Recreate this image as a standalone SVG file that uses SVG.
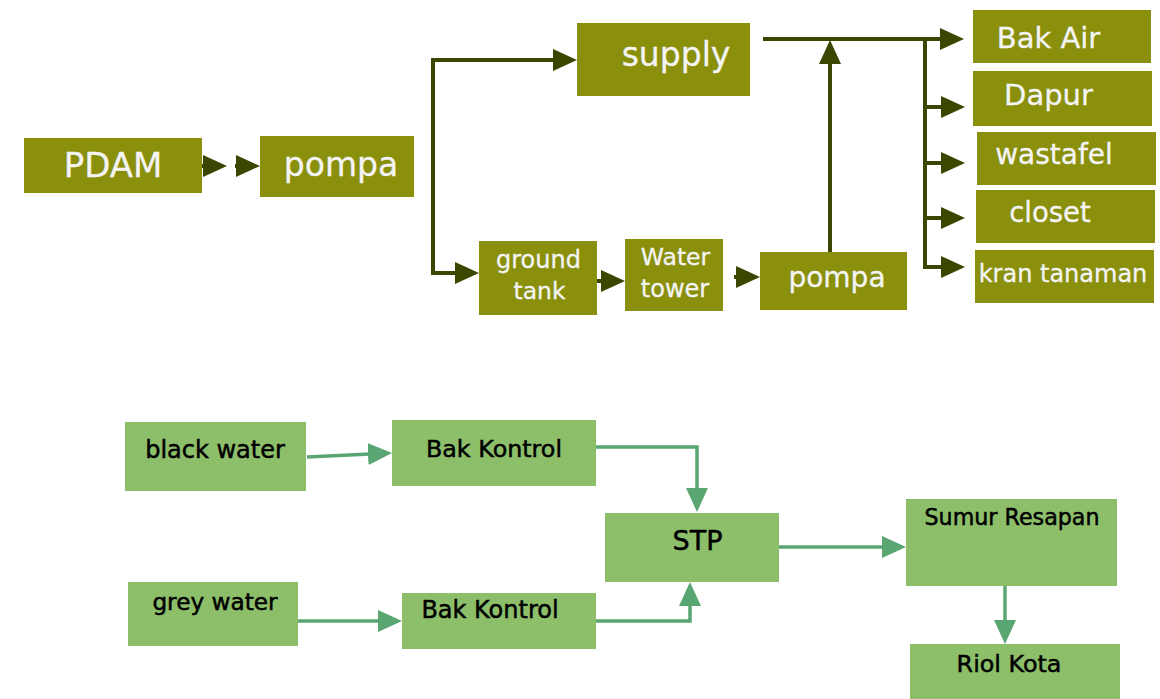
<svg xmlns="http://www.w3.org/2000/svg" width="1160" height="699" viewBox="0 0 1160 699">
  <style>
    .olive { fill: #8a8f0c; }
    .leaf { fill: #8dbf6b; }
    .lt { font-family: "DejaVu Sans", "Liberation Sans", sans-serif; fill: #f4f4f4; stroke: #f4f4f4; stroke-width: 0.3; text-anchor: middle; }
    .dk { font-family: "DejaVu Sans", "Liberation Sans", sans-serif; fill: #000000; stroke: #000000; stroke-width: 0.5; text-anchor: middle; }
    .supplyLine { fill: none; stroke: #3c4600; stroke-width: 4; }
    .wasteLine { fill: none; stroke: #5aa672; stroke-width: 3.5; }
  </style>
  <defs>
    <marker id="headDark" viewBox="0 0 24 22" refX="18" refY="11" markerWidth="24" markerHeight="22" markerUnits="userSpaceOnUse" orient="auto">
      <path d="M0,0 L24,11 L0,22 Z" fill="#3c4600"/>
    </marker>
    <marker id="headGreen" viewBox="0 0 24 22" refX="18" refY="11" markerWidth="24" markerHeight="22" markerUnits="userSpaceOnUse" orient="auto">
      <path d="M0,0 L24,11 L0,22 Z" fill="#5aa672"/>
    </marker>
  </defs>

  <rect width="1160" height="699" fill="#ffffff"/>

  <!-- clean water supply connectors -->
  <g id="connectors-supply">
    <path class="supplyLine" d="M202,166 H221" marker-end="url(#headDark)"/>
    <path class="supplyLine" d="M235,166 H254" marker-end="url(#headDark)"/>
    <path class="supplyLine" d="M433,166 V60 H571" marker-end="url(#headDark)"/>
    <path class="supplyLine" d="M433,166 V273 H473" marker-end="url(#headDark)"/>
    <path class="supplyLine" d="M597,281 H619" marker-end="url(#headDark)"/>
    <path class="supplyLine" d="M734,277 H754" marker-end="url(#headDark)"/>
    <path class="supplyLine" d="M830,252 V46" marker-end="url(#headDark)"/>
    <path class="supplyLine" d="M763,39 H958" marker-end="url(#headDark)"/>
    <path class="supplyLine" d="M925,39 V267"/>
    <path class="supplyLine" d="M925,107 H959" marker-end="url(#headDark)"/>
    <path class="supplyLine" d="M925,163 H959" marker-end="url(#headDark)"/>
    <path class="supplyLine" d="M925,218 H959" marker-end="url(#headDark)"/>
    <path class="supplyLine" d="M923,267 H959" marker-end="url(#headDark)"/>
  </g>

  <!-- waste water connectors -->
  <g id="connectors-waste">
    <path class="wasteLine" d="M307,457 L386,453.3" marker-end="url(#headGreen)"/>
    <path class="wasteLine" d="M596,447 H697 V506" marker-end="url(#headGreen)"/>
    <path class="wasteLine" d="M298,621 H396" marker-end="url(#headGreen)"/>
    <path class="wasteLine" d="M596,621 H690 V588" marker-end="url(#headGreen)"/>
    <path class="wasteLine" d="M779,547 H900" marker-end="url(#headGreen)"/>
    <path class="wasteLine" d="M1005,586 V638" marker-end="url(#headGreen)"/>
  </g>

  <!-- supply nodes -->
  <g id="pdam">
    <rect class="olive" x="24" y="138" width="178" height="55"/>
    <text class="lt" x="113" y="177" font-size="34">PDAM</text>
  </g>
  <g id="pompa-main">
    <rect class="olive" x="260" y="136" width="154" height="61"/>
    <text class="lt" x="341" y="176" font-size="33">pompa</text>
  </g>
  <g id="supply">
    <rect class="olive" x="577" y="23" width="173" height="73"/>
    <text class="lt" x="676" y="66" font-size="33">supply</text>
  </g>
  <g id="ground-tank">
    <rect class="olive" x="479" y="241" width="118" height="74"/>
    <text class="lt" x="538.5" y="268" font-size="24">ground</text>
    <text class="lt" x="539.5" y="299" font-size="23.5">tank</text>
  </g>
  <g id="water-tower">
    <rect class="olive" x="625" y="239" width="98" height="72"/>
    <text class="lt" x="675.5" y="265" font-size="23.5">Water</text>
    <text class="lt" x="675" y="297" font-size="24">tower</text>
  </g>
  <g id="pompa-tower">
    <rect class="olive" x="760" y="252" width="147" height="58"/>
    <text class="lt" x="837" y="287" font-size="28">pompa</text>
  </g>
  <g id="bak-air">
    <rect class="olive" x="973" y="10" width="178" height="53"/>
    <text class="lt" x="1048.5" y="48" font-size="29">Bak Air</text>
  </g>
  <g id="dapur">
    <rect class="olive" x="973" y="71" width="179" height="55"/>
    <text class="lt" x="1048.5" y="105" font-size="29">Dapur</text>
  </g>
  <g id="wastafel">
    <rect class="olive" x="977" y="132" width="179" height="53"/>
    <text class="lt" x="1054" y="164" font-size="28">wastafel</text>
  </g>
  <g id="closet">
    <rect class="olive" x="976" y="190" width="179" height="53"/>
    <text class="lt" x="1050" y="222" font-size="27.5">closet</text>
  </g>
  <g id="kran-tanaman">
    <rect class="olive" x="975" y="250" width="179" height="53"/>
    <text class="lt" x="1063" y="282" font-size="24">kran tanaman</text>
  </g>

  <!-- waste water nodes -->
  <g id="black-water">
    <rect class="leaf" x="125" y="422" width="181" height="69"/>
    <text class="dk" x="215" y="458" font-size="24">black water</text>
  </g>
  <g id="bak-kontrol-1">
    <rect class="leaf" x="392" y="420" width="204" height="66"/>
    <text class="dk" x="494" y="457" font-size="23.8">Bak Kontrol</text>
  </g>
  <g id="grey-water">
    <rect class="leaf" x="128" y="582" width="170" height="64"/>
    <text class="dk" x="215" y="610" font-size="23.2">grey water</text>
  </g>
  <g id="bak-kontrol-2">
    <rect class="leaf" x="402" y="593" width="194" height="56"/>
    <text class="dk" x="490" y="618" font-size="24">Bak Kontrol</text>
  </g>
  <g id="stp">
    <rect class="leaf" x="605" y="513" width="174" height="69"/>
    <text class="dk" x="697.5" y="550" font-size="27">STP</text>
  </g>
  <g id="sumur-resapan">
    <rect class="leaf" x="906" y="499" width="211" height="87"/>
    <text class="dk" x="1012" y="525" font-size="22.2">Sumur Resapan</text>
  </g>
  <g id="riol-kota">
    <rect class="leaf" x="910" y="644" width="210" height="60"/>
    <text class="dk" x="1009" y="672" font-size="23.8">Riol Kota</text>
  </g>
</svg>
